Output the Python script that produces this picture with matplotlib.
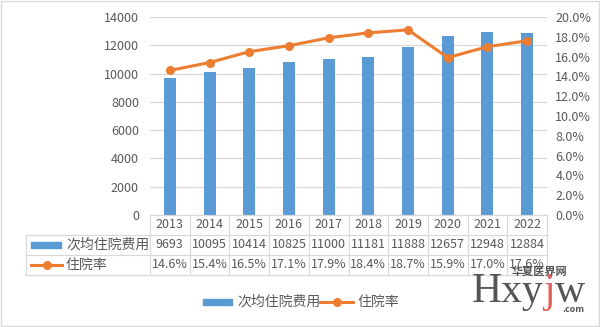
import matplotlib.pyplot as plt
from matplotlib.lines import Line2D
from matplotlib.patches import Rectangle

plt.rcParams['font.family'] = ['Noto Sans CJK SC', 'DejaVu Sans']

years = ['2013', '2014', '2015', '2016', '2017', '2018', '2019', '2020', '2021', '2022']
cost = [9693, 10095, 10414, 10825, 11000, 11181, 11888, 12657, 12948, 12884]
rate = [14.6, 15.4, 16.5, 17.1, 17.9, 18.4, 18.7, 15.9, 17.0, 17.6]
cost_name = '次均住院费用'
rate_name = '住院率'

blue = '#5B9BD5'
orange = '#ED7D31'
grid_c = '#D9D9D9'
txt_c = '#595959'
fs = 9

W, H = 600, 327
fig = plt.figure(figsize=(W / 100, H / 100), dpi=100)

def fx(px):
    return px / W

def fy(py):
    return 1 - py / H

left, right, top, bottom = 150, 547, 17, 215
ax = fig.add_axes([fx(left), fy(bottom), fx(right - left), fy(top) - fy(bottom)])
ax2 = ax.twinx()

x = list(range(len(years)))
ax.bar(x, cost, width=0.3, color=blue, zorder=3)
ax.set_xlim(-0.5, len(years) - 0.5)
ax.set_ylim(0, 14000)
ax.set_yticks(range(0, 14001, 2000))
ax.grid(axis='y', color=grid_c, lw=0.9, zorder=0)
ax.set_xticks([])
ax.tick_params(axis='y', length=0, labelsize=fs, colors=txt_c, pad=8)

ax2.plot(x, rate, color=orange, lw=2.2, marker='o', ms=5.5, zorder=4)
ax2.set_ylim(0, 20)
ax2.set_yticks(range(0, 21, 2))
ax2.set_yticklabels(['%.1f%%' % v for v in range(0, 21, 2)])
ax2.tick_params(axis='y', length=0, labelsize=fs, colors=txt_c, pad=6)

for a in (ax, ax2):
    for s in a.spines.values():
        s.set_visible(False)

# data table under the plot
col_w = (right - left) / len(years)
row_h = 20
tab_left = 26
rows_y = [bottom, bottom + row_h, bottom + 2 * row_h, bottom + 3 * row_h]
lines = []
lines.append(([left, right], [rows_y[0], rows_y[0]]))
for r in rows_y[1:]:
    lines.append(([tab_left, right], [r, r]))
for i in range(len(years) + 1):
    xx = left + i * col_w
    lines.append(([xx, xx], [rows_y[0], rows_y[3]]))
lines.append(([tab_left, tab_left], [rows_y[1], rows_y[3]]))
for xs, ys in lines:
    fig.add_artist(Line2D([fx(v) for v in xs], [fy(v) for v in ys], color=grid_c, lw=0.9))

for i in range(len(years)):
    cx = fx(left + (i + 0.5) * col_w)
    fig.text(cx, fy(rows_y[0] + row_h / 2), years[i], ha='center', va='center', fontsize=fs, color=txt_c)
    fig.text(cx, fy(rows_y[1] + row_h / 2), str(cost[i]), ha='center', va='center', fontsize=fs, color=txt_c)
    fig.text(cx, fy(rows_y[2] + row_h / 2), '%.1f%%' % rate[i], ha='center', va='center', fontsize=fs, color=txt_c)

# legend keys inside the table
fig.add_artist(Rectangle((fx(31), fy(rows_y[1] + 13)), fx(30), fy(rows_y[1] + 7) - fy(rows_y[1] + 13), color=blue))
fig.text(fx(66), fy(rows_y[1] + row_h / 2), cost_name, ha='left', va='center', fontsize=fs + 1, color=txt_c)
fig.add_artist(Line2D([fx(31), fx(62)], [fy(rows_y[2] + 10)] * 2, color=orange, lw=2.2))
fig.add_artist(Line2D([fx(46.5)], [fy(rows_y[2] + 10)], color=orange, marker='o', ms=5.5))
fig.text(fx(66), fy(rows_y[2] + row_h / 2), rate_name, ha='left', va='center', fontsize=fs + 1, color=txt_c)

# legend below
ly = 302
fig.add_artist(Rectangle((fx(203), fy(ly + 3)), fx(29), fy(ly - 3) - fy(ly + 3), color=blue))
fig.text(fx(237), fy(ly), cost_name, ha='left', va='center', fontsize=fs + 1, color=txt_c)
fig.add_artist(Line2D([fx(320), fx(353)], [fy(ly)] * 2, color=orange, lw=2.2))
fig.add_artist(Line2D([fx(336.5)], [fy(ly)], color=orange, marker='o', ms=5.5))
fig.text(fx(357), fy(ly), rate_name, ha='left', va='center', fontsize=fs + 1, color=txt_c)

# site mark, drawn piece by piece so the "j" can take its own colour
mark_c = '#555555'
renderer = fig.canvas.get_renderer()
px = 472
for part, c in (('Hxy', mark_c), ('j', '#E0605A'), ('w', mark_c)):
    t = fig.text(fx(px), fy(302), part, ha='left', va='baseline', fontsize=30,
                 family='Liberation Serif', color=c)
    px += t.get_window_extent(renderer).width
fig.text(fx(512), fy(271), '华夏医界网', ha='left', va='center', fontsize=8,
         color=mark_c, weight='bold')
fig.text(fx(562), fy(309), '.com', ha='left', va='center', fontsize=6.5,
         color=mark_c, weight='bold')

fig.add_artist(Rectangle((0.002, 0.003), 0.996, 0.994, fill=False, edgecolor=grid_c, lw=1))

fig.savefig('out.png', dpi=100)
